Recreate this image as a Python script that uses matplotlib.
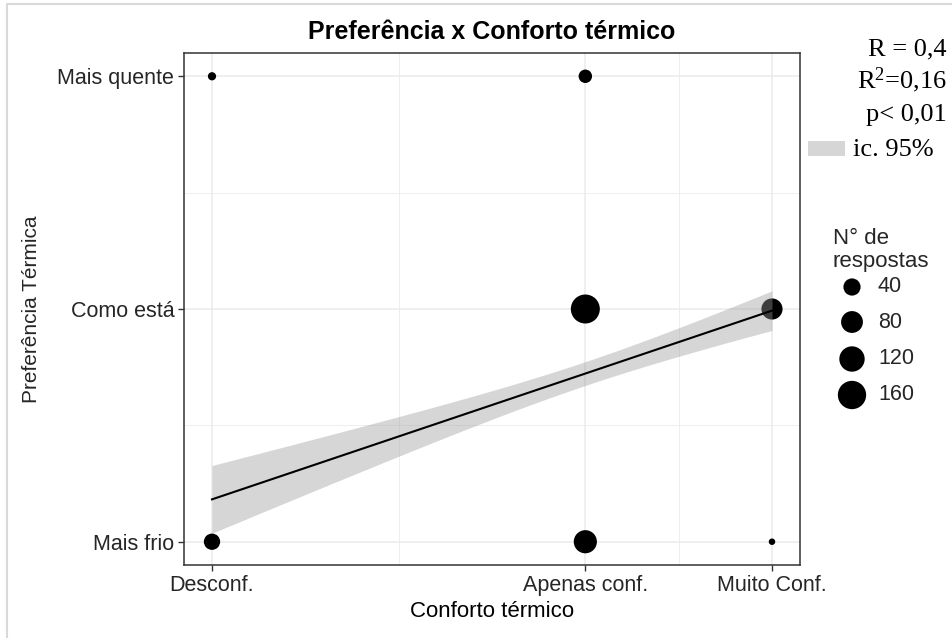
import numpy as np
import matplotlib
matplotlib.use("Agg")
import matplotlib.pyplot as plt
from matplotlib.patches import Rectangle

plt.rcParams['font.family'] = ['Liberation Sans', 'DejaVu Sans']
plt.rcParams['mathtext.fontset'] = 'custom'
plt.rcParams['mathtext.rm'] = 'Liberation Serif'
plt.rcParams['mathtext.it'] = 'Liberation Serif:italic'
plt.rcParams['mathtext.bf'] = 'Liberation Serif:bold'

# --- data -------------------------------------------------------------
conforto_labels = ["Desconf.", "Apenas conf.", "Muito Conf."]
conforto_vals = [-1, 1, 2]
pref_labels = ["Mais frio", "Como está", "Mais quente"]
pref_vals = [-1, 0, 1]

# number of answers for each (comfort, preference) combination
x_pts = [-1, -1, 1, 1, 1, 2, 2]
y_pts = [-1, 1, -1, 0, 1, -1, 0]
n_resp = [34, 3, 94, 170, 18, 2, 73]

size_breaks = [40, 80, 120, 160]
stat_lines = ["R = 0,4", r"R$\mathregular{^2}$=0,16", "p< 0,01"]
ci_label = "ic. 95%"

# --- helpers ----------------------------------------------------------
DPI = 100
W, H = 952, 638
n_min, n_max = min(n_resp), max(n_resp)


def diam_px(n):
    n = np.asarray(n, dtype=float)
    r = np.clip((n - n_min) / (n_max - n_min), 0, 1)
    return 6.5 + 22.5 * np.sqrt(r)


def area_pt2(n):
    return (diam_px(n) * 72.0 / DPI) ** 2


# weighted linear fit (each point counts n times)
x = np.array(x_pts, float)
y = np.array(y_pts, float)
w = np.array(n_resp, float)
N = w.sum()
mx = (w * x).sum() / N
my = (w * y).sum() / N
sxx = (w * (x - mx) ** 2).sum()
sxy = (w * (x - mx) * (y - my)).sum()
slope = sxy / sxx
icpt = my - slope * mx
sse = (w * (y - icpt - slope * x) ** 2).sum()
sigma2 = sse / (N - 2)
t_crit = 1.966

xs = np.linspace(min(conforto_vals), max(conforto_vals), 200)
fit = icpt + slope * xs
se = np.sqrt(sigma2 * (1.0 / N + (xs - mx) ** 2 / sxx))

# --- figure -----------------------------------------------------------
fig = plt.figure(figsize=(W / DPI, H / DPI), dpi=DPI)
fig.patch.set_facecolor("white")


def fx(px):
    return px / W


def fy(py):
    return 1 - py / H


px0, px1, py0, py1 = 184, 800, 53, 565
ax = fig.add_axes([fx(px0), fy(py1), fx(px1 - px0), (py1 - py0) / H])
ax.set_xlim(-1.15, 2.15)
ax.set_ylim(-1.1, 1.1)

ax.set_xticks(conforto_vals)
ax.set_xticklabels(conforto_labels)
ax.set_yticks(pref_vals)
ax.set_yticklabels(pref_labels)
ax.set_xticks([0, 1.5], minor=True)
ax.set_yticks([-0.5, 0.5], minor=True)
ax.grid(which="major", color="#EBEBEB", lw=1.1)
ax.grid(which="minor", color="#EBEBEB", lw=0.6)
ax.set_axisbelow(True)
ax.tick_params(which="minor", length=0)
ax.tick_params(which="major", length=4, width=1.0, color="#333333",
               labelcolor="#262626", labelsize=15.5, pad=3)
for sp in ax.spines.values():
    sp.set_color("#333333")
    sp.set_linewidth(1.1)

ax.scatter(x_pts, y_pts, s=area_pt2(n_resp), color="black", lw=0, zorder=2)
ax.fill_between(xs, fit - t_crit * se, fit + t_crit * se,
                color="#999999", alpha=0.4, lw=0, zorder=3)
ax.plot(xs, fit, color="black", lw=1.5, zorder=4)

ax.set_title("Preferência x Conforto térmico", fontsize=18, fontweight="bold",
             pad=10)
ax.set_xlabel("Conforto térmico", fontsize=16, labelpad=4, color="black")
ax.set_ylabel("Preferência Térmica", fontsize=15, labelpad=12, color="#262626")

# overlay for annotations in pixel coordinates
ov = fig.add_axes([0, 0, 1, 1], zorder=5)
ov.set_xlim(0, W)
ov.set_ylim(H, 0)
ov.axis("off")
ov.patch.set_alpha(0)

# outer frame
ov.plot([7, 7, W], [H, 4, 4], color="#D9D9D9", lw=1.5)

serif = ["Liberation Serif", "DejaVu Serif"]
for i, s in enumerate(stat_lines):
    ov.text(947, 55 + 33 * i, s, ha="right", va="baseline", fontsize=19,
            family=serif, color="black")
ov.add_patch(Rectangle((808, 141), 37, 15, color="#D6D6D6", lw=0))
ov.text(853, 156, ci_label, ha="left", va="baseline", fontsize=19,
        family=serif, color="black")

# size legend
ov.text(833, 238, "N° de", ha="left", va="center", fontsize=16, color="#262626")
ov.text(833, 261, "respostas", ha="left", va="center", fontsize=16,
        color="#262626")
leg_y = [287, 322, 359, 395]
ov.scatter([852] * len(size_breaks), leg_y, s=area_pt2(size_breaks),
           color="black", lw=0)
for yy, b in zip(leg_y, size_breaks):
    ov.text(878, yy, str(b), ha="left", va="center", fontsize=15.5,
            color="#262626")

fig.savefig("out.png", dpi=DPI)
